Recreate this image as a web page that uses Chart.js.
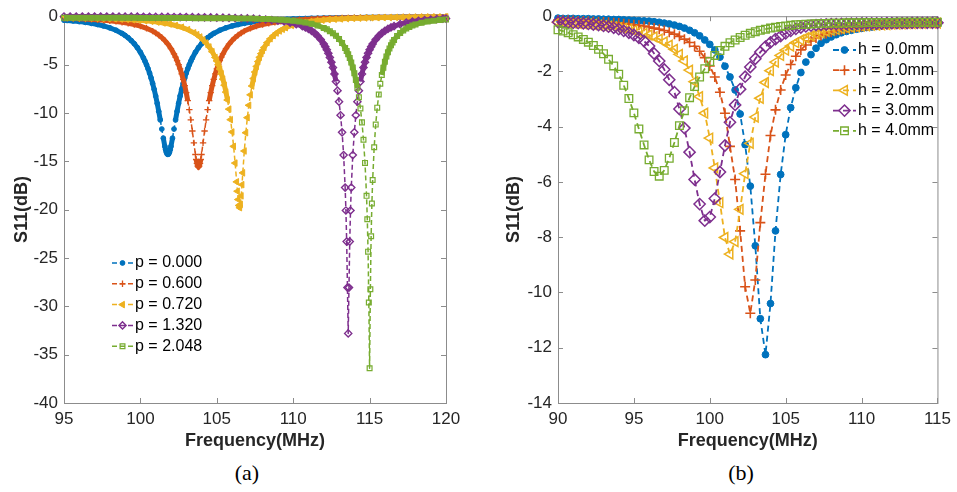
<!DOCTYPE html>
<html>
<head>
<meta charset="utf-8">
<title>S11 vs Frequency</title>
<script src="https://cdn.jsdelivr.net/npm/chart.js@4.4.1/dist/chart.umd.min.js"></script>
<style>
  body { margin: 0; background: #fff; }
  #wrap { position: relative; width: 957px; height: 492px; overflow: hidden; }
  canvas { position: absolute; top: 0; }
  #chartA { left: 0; }
  #chartB { left: 478px; }
  .cap { position: absolute; top: 460px; width: 80px; text-align: center; line-height: 26px;
         font: 22px "Liberation Serif", "Times New Roman", serif; color: #000; }
</style>
</head>
<body>
<div id="wrap">
  <canvas id="chartA" width="478" height="455"></canvas>
  <canvas id="chartB" width="479" height="455"></canvas>
  <div class="cap" style="left:207px">(a)</div>
  <div class="cap" style="left:701px">(b)</div>
</div>
<script>
// ---- (a) S11 against frequency for several p ----
const labelsA = ['p = 0.000', 'p = 0.600', 'p = 0.720', 'p = 1.320', 'p = 2.048'];

const freqP000 = [
  95.0, 95.2, 95.6, 96.0, 96.4, 96.8, 97.2, 97.6, 98.0, 98.4,
  98.8, 99.0, 99.2, 99.4, 99.6, 99.8, 100.0, 100.2, 100.3, 100.4,
  100.5, 100.6, 100.7, 100.8, 100.9, 101.0, 101.1, 101.2, 101.3, 101.4,
  101.5, 101.6, 101.65, 101.7, 101.75, 101.8, 101.85, 101.9, 101.95, 102.0,
  102.1, 102.2, 102.3, 102.4, 102.5, 102.6, 102.7, 102.8, 102.9, 103.0,
  103.1, 103.2, 103.3, 103.4, 103.6, 103.8, 104.0, 104.2, 104.4, 104.6,
  104.8, 105.2, 105.6, 106.0, 106.4, 106.8, 107.2, 107.6, 108.0, 108.4,
  108.8, 109.2, 109.6, 110.0, 110.4, 110.8, 111.2, 111.6, 112.0, 112.4,
  112.8, 113.2, 113.6, 114.0, 114.4, 114.8, 115.2, 115.6, 116.0, 116.4,
  116.8, 117.2, 117.6, 118.0, 118.4, 118.8, 119.2, 119.6, 120.0];
const s11P000 = [
  -0.42, -0.44, -0.49, -0.56, -0.64, -0.74, -0.86, -1.01, -1.20, -1.45,
  -1.78, -1.99, -2.23, -2.52, -2.85, -3.25, -3.73, -4.32, -4.65, -5.02,
  -5.43, -5.88, -6.39, -6.95, -7.56, -8.25, -9.01, -9.84, -10.73, -11.67,
  -12.61, -13.46, -13.80, -14.07, -14.24, -14.29, -14.24, -14.07, -13.80, -13.46,
  -12.61, -11.67, -10.73, -9.84, -9.01, -8.25, -7.56, -6.95, -6.39, -5.88,
  -5.43, -5.02, -4.65, -4.32, -3.73, -3.25, -2.85, -2.52, -2.23, -1.99,
  -1.78, -1.45, -1.20, -1.01, -0.86, -0.74, -0.64, -0.56, -0.49, -0.44,
  -0.39, -0.35, -0.32, -0.29, -0.26, -0.24, -0.22, -0.21, -0.19, -0.18,
  -0.17, -0.16, -0.15, -0.14, -0.13, -0.12, -0.12, -0.11, -0.10, -0.10,
  -0.09, -0.09, -0.08, -0.08, -0.07, -0.07, -0.07, -0.06, -0.06];

const freqP060 = [
  95.0, 95.2, 95.6, 96.0, 96.4, 96.8, 97.2, 97.6, 98.0, 98.4,
  98.8, 99.2, 99.6, 100.0, 100.4, 100.8, 101.0, 101.2, 101.4, 101.6,
  101.8, 102.0, 102.2, 102.3, 102.4, 102.5, 102.6, 102.7, 102.8, 102.9,
  103.0, 103.1, 103.2, 103.3, 103.4, 103.5, 103.6, 103.65, 103.7, 103.75,
  103.8, 103.85, 103.9, 103.95, 104.0, 104.1, 104.2, 104.3, 104.4, 104.5,
  104.6, 104.7, 104.8, 104.9, 105.0, 105.1, 105.2, 105.3, 105.4, 105.6,
  105.8, 106.0, 106.2, 106.4, 106.6, 106.8, 107.2, 107.6, 108.0, 108.4,
  108.8, 109.2, 109.6, 110.0, 110.4, 110.8, 111.2, 111.6, 112.0, 112.4,
  112.8, 113.2, 113.6, 114.0, 114.4, 114.8, 115.2, 115.6, 116.0, 116.4,
  116.8, 117.2, 117.6, 118.0, 118.4, 118.8, 119.2, 119.6, 120.0];
const s11P060 = [
  -0.21, -0.22, -0.24, -0.27, -0.30, -0.33, -0.37, -0.42, -0.47, -0.54,
  -0.63, -0.73, -0.86, -1.03, -1.25, -1.54, -1.73, -1.95, -2.21, -2.52,
  -2.89, -3.35, -3.90, -4.23, -4.59, -5.00, -5.45, -5.96, -6.54, -7.18,
  -7.91, -8.74, -9.67, -10.72, -11.87, -13.10, -14.30, -14.82, -15.23, -15.51,
  -15.60, -15.51, -15.23, -14.82, -14.30, -13.10, -11.87, -10.72, -9.67, -8.74,
  -7.91, -7.18, -6.54, -5.96, -5.45, -5.00, -4.59, -4.23, -3.90, -3.35,
  -2.89, -2.52, -2.21, -1.95, -1.73, -1.54, -1.25, -1.03, -0.86, -0.73,
  -0.63, -0.54, -0.47, -0.42, -0.37, -0.33, -0.30, -0.27, -0.24, -0.22,
  -0.20, -0.19, -0.17, -0.16, -0.15, -0.14, -0.13, -0.12, -0.11, -0.11,
  -0.10, -0.09, -0.09, -0.08, -0.08, -0.08, -0.07, -0.07, -0.07];

const freqP072 = [
  95.0, 95.1, 95.5, 95.9, 96.3, 96.7, 97.1, 97.5, 97.9, 98.3,
  98.7, 99.1, 99.5, 99.9, 100.3, 100.7, 101.1, 101.5, 101.9, 102.3,
  102.7, 103.1, 103.5, 103.7, 103.9, 104.1, 104.3, 104.5, 104.7, 104.9,
  105.0, 105.1, 105.2, 105.3, 105.4, 105.5, 105.6, 105.7, 105.8, 105.9,
  106.0, 106.1, 106.2, 106.3, 106.35, 106.4, 106.45, 106.5, 106.55, 106.6,
  106.65, 106.7, 106.8, 106.9, 107.0, 107.1, 107.2, 107.3, 107.4, 107.5,
  107.6, 107.7, 107.8, 107.9, 108.0, 108.1, 108.3, 108.5, 108.7, 108.9,
  109.1, 109.3, 109.5, 109.9, 110.3, 110.7, 111.1, 111.5, 111.9, 112.3,
  112.7, 113.1, 113.5, 113.9, 114.3, 114.7, 115.1, 115.5, 115.9, 116.3,
  116.7, 117.1, 117.5, 117.9, 118.3, 118.7, 119.1, 119.5, 119.9, 120.0];
const s11P072 = [
  -0.14, -0.14, -0.15, -0.17, -0.18, -0.19, -0.21, -0.23, -0.25, -0.27,
  -0.30, -0.33, -0.37, -0.41, -0.47, -0.53, -0.61, -0.70, -0.81, -0.96,
  -1.14, -1.39, -1.71, -1.91, -2.15, -2.44, -2.77, -3.18, -3.67, -4.27,
  -4.62, -5.02, -5.46, -5.95, -6.51, -7.14, -7.85, -8.67, -9.61, -10.70,
  -11.97, -13.46, -15.19, -17.13, -18.10, -18.96, -19.57, -19.80, -19.46, -18.58,
  -17.42, -16.20, -13.94, -12.05, -10.49, -9.21, -8.13, -7.22, -6.44, -5.77,
  -5.19, -4.69, -4.25, -3.87, -3.53, -3.23, -2.73, -2.33, -2.01, -1.74,
  -1.53, -1.35, -1.19, -0.96, -0.78, -0.65, -0.55, -0.47, -0.41, -0.35,
  -0.31, -0.28, -0.25, -0.22, -0.20, -0.18, -0.16, -0.15, -0.14, -0.13,
  -0.12, -0.11, -0.10, -0.10, -0.09, -0.09, -0.08, -0.08, -0.07, -0.07];

const freqP132 = [
  95.0, 95.4, 95.8, 96.2, 96.6, 97.0, 97.4, 97.8, 98.2, 98.6,
  99.0, 99.4, 99.8, 100.2, 100.6, 101.0, 101.4, 101.8, 102.2, 102.6,
  103.0, 103.4, 103.8, 104.2, 104.6, 105.0, 105.4, 105.8, 106.2, 106.6,
  107.0, 107.4, 107.8, 108.2, 108.6, 109.0, 109.4, 109.8, 110.2, 110.6,
  110.8, 111.0, 111.2, 111.4, 111.6, 111.8, 112.0, 112.1, 112.2, 112.3,
  112.4, 112.5, 112.6, 112.7, 112.8, 112.9, 113.0, 113.1, 113.2, 113.3,
  113.4, 113.45, 113.5, 113.55, 113.6, 113.65, 113.7, 113.75, 113.8, 113.9,
  114.0, 114.1, 114.2, 114.3, 114.4, 114.5, 114.6, 114.7, 114.8, 114.9,
  115.0, 115.1, 115.2, 115.4, 115.6, 115.8, 116.0, 116.2, 116.4, 116.6,
  117.0, 117.4, 117.8, 118.2, 118.6, 119.0, 119.4, 119.8, 120.0];
const s11P132 = [
  -0.03, -0.03, -0.03, -0.03, -0.04, -0.04, -0.04, -0.04, -0.04, -0.05,
  -0.05, -0.05, -0.05, -0.06, -0.06, -0.07, -0.07, -0.07, -0.08, -0.09,
  -0.09, -0.10, -0.11, -0.12, -0.13, -0.14, -0.15, -0.17, -0.19, -0.21,
  -0.23, -0.26, -0.30, -0.34, -0.40, -0.47, -0.55, -0.67, -0.82, -1.03,
  -1.16, -1.32, -1.51, -1.75, -2.04, -2.41, -2.87, -3.15, -3.47, -3.84,
  -4.26, -4.75, -5.31, -5.98, -6.76, -7.70, -8.84, -10.24, -12.01, -14.36,
  -17.72, -20.09, -23.31, -28.06, -32.80, -28.06, -23.31, -20.09, -17.72, -14.36,
  -12.01, -10.24, -8.84, -7.70, -6.76, -5.98, -5.31, -4.75, -4.26, -3.84,
  -3.47, -3.15, -2.87, -2.41, -2.04, -1.75, -1.51, -1.32, -1.16, -1.03,
  -0.82, -0.67, -0.55, -0.47, -0.40, -0.34, -0.30, -0.26, -0.25];

const freqP2048 = [
  95.0, 95.2, 95.6, 96.0, 96.4, 96.8, 97.2, 97.6, 98.0, 98.4,
  98.8, 99.2, 99.6, 100.0, 100.4, 100.8, 101.2, 101.6, 102.0, 102.4,
  102.8, 103.2, 103.6, 104.0, 104.4, 104.8, 105.2, 105.6, 106.0, 106.4,
  106.8, 107.2, 107.6, 108.0, 108.4, 108.8, 109.2, 109.6, 110.0, 110.4,
  110.8, 111.2, 111.6, 112.0, 112.2, 112.4, 112.6, 112.8, 113.0, 113.2,
  113.4, 113.5, 113.6, 113.7, 113.8, 113.9, 114.0, 114.1, 114.2, 114.3,
  114.4, 114.5, 114.6, 114.7, 114.8, 114.85, 114.9, 114.95, 115.0, 115.05,
  115.1, 115.15, 115.2, 115.3, 115.4, 115.5, 115.6, 115.7, 115.8, 115.9,
  116.0, 116.1, 116.2, 116.3, 116.4, 116.5, 116.6, 116.8, 117.0, 117.2,
  117.4, 117.6, 117.8, 118.0, 118.4, 118.8, 119.2, 119.6, 120.0];
const s11P2048 = [
  -0.16, -0.16, -0.16, -0.16, -0.16, -0.16, -0.16, -0.17, -0.17, -0.17,
  -0.17, -0.17, -0.17, -0.18, -0.18, -0.18, -0.18, -0.18, -0.19, -0.19,
  -0.19, -0.19, -0.20, -0.20, -0.20, -0.21, -0.21, -0.22, -0.22, -0.23,
  -0.24, -0.25, -0.26, -0.28, -0.30, -0.33, -0.37, -0.42, -0.48, -0.56,
  -0.66, -0.79, -0.97, -1.21, -1.36, -1.55, -1.77, -2.03, -2.36, -2.77,
  -3.28, -3.59, -3.93, -4.33, -4.78, -5.30, -5.90, -6.59, -7.41, -8.38,
  -9.55, -10.98, -12.78, -15.17, -18.58, -21.00, -24.35, -29.61, -36.40, -28.23,
  -22.75, -19.37, -16.94, -13.55, -11.21, -9.46, -8.09, -6.99, -6.08, -5.34,
  -4.71, -4.18, -3.73, -3.34, -3.01, -2.72, -2.47, -2.05, -1.73, -1.48,
  -1.27, -1.11, -0.97, -0.86, -0.68, -0.55, -0.46, -0.38, -0.33];

// ---- (b) S11 against frequency for several h ----
const labelsB = ['h = 0.0mm', 'h = 1.0mm', 'h = 2.0mm', 'h = 3.0mm', 'h = 4.0mm'];

const freqB = [
  90.00, 90.33, 90.67, 91.00, 91.33, 91.67, 92.00, 92.33, 92.67, 93.00,
  93.33, 93.67, 94.00, 94.33, 94.67, 95.00, 95.33, 95.67, 96.00, 96.33,
  96.67, 97.00, 97.33, 97.67, 98.00, 98.33, 98.67, 99.00, 99.33, 99.67,
  100.00, 100.33, 100.67, 101.00, 101.33, 101.67, 102.00, 102.33, 102.67, 103.00,
  103.33, 103.67, 104.00, 104.33, 104.67, 105.00, 105.33, 105.67, 106.00, 106.33,
  106.67, 107.00, 107.33, 107.67, 108.00, 108.33, 108.67, 109.00, 109.33, 109.67,
  110.00, 110.33, 110.67, 111.00, 111.33, 111.67, 112.00, 112.33, 112.67, 113.00,
  113.33, 113.67, 114.00, 114.33, 114.67, 115.00];

const s11H00 = [
  -0.07, -0.08, -0.08, -0.08, -0.09, -0.09, -0.09, -0.10, -0.10, -0.11,
  -0.11, -0.12, -0.12, -0.13, -0.14, -0.15, -0.16, -0.17, -0.18, -0.20,
  -0.22, -0.25, -0.28, -0.32, -0.37, -0.43, -0.51, -0.60, -0.71, -0.86,
  -1.02, -1.22, -1.48, -1.81, -2.20, -2.67, -3.54, -4.65, -6.15, -8.31,
  -10.95, -12.25, -10.40, -7.77, -5.73, -4.29, -3.31, -2.59, -2.04, -1.66,
  -1.39, -1.16, -0.98, -0.85, -0.75, -0.67, -0.60, -0.55, -0.51, -0.47,
  -0.44, -0.41, -0.39, -0.37, -0.35, -0.34, -0.33, -0.32, -0.31, -0.30,
  -0.29, -0.28, -0.27, -0.27, -0.26, -0.26];
const s11H10 = [
  -0.14, -0.15, -0.15, -0.16, -0.17, -0.17, -0.18, -0.19, -0.20, -0.21,
  -0.22, -0.24, -0.25, -0.27, -0.29, -0.31, -0.33, -0.36, -0.39, -0.43,
  -0.47, -0.52, -0.58, -0.65, -0.73, -0.83, -0.95, -1.09, -1.27, -1.50,
  -1.80, -2.20, -2.75, -3.51, -4.71, -5.91, -7.77, -9.79, -10.75, -9.55,
  -7.47, -5.72, -4.32, -3.39, -2.67, -2.13, -1.75, -1.45, -1.22, -1.04,
  -0.90, -0.79, -0.70, -0.63, -0.57, -0.52, -0.48, -0.44, -0.41, -0.39,
  -0.37, -0.35, -0.33, -0.32, -0.31, -0.30, -0.29, -0.28, -0.28, -0.27,
  -0.27, -0.26, -0.26, -0.25, -0.25, -0.25];
const s11H20 = [
  -0.22, -0.23, -0.24, -0.25, -0.26, -0.27, -0.28, -0.30, -0.32, -0.34,
  -0.36, -0.38, -0.41, -0.44, -0.48, -0.52, -0.57, -0.62, -0.68, -0.75,
  -0.83, -0.93, -1.05, -1.20, -1.38, -1.62, -1.95, -2.37, -2.91, -3.51,
  -4.41, -5.49, -6.75, -8.01, -8.61, -8.16, -6.99, -5.70, -4.60, -3.65,
  -2.97, -2.40, -1.97, -1.66, -1.42, -1.23, -1.08, -0.96, -0.86, -0.78,
  -0.71, -0.65, -0.60, -0.55, -0.51, -0.48, -0.45, -0.42, -0.40, -0.38,
  -0.36, -0.35, -0.33, -0.32, -0.31, -0.30, -0.29, -0.29, -0.28, -0.27,
  -0.27, -0.26, -0.26, -0.25, -0.25, -0.25];
const s11H30 = [
  -0.21, -0.22, -0.23, -0.24, -0.25, -0.26, -0.28, -0.30, -0.32, -0.35,
  -0.38, -0.42, -0.47, -0.53, -0.60, -0.68, -0.78, -0.90, -1.08, -1.35,
  -1.62, -1.93, -2.30, -2.75, -3.36, -4.05, -4.92, -5.91, -6.80, -7.40,
  -7.27, -6.60, -5.64, -4.68, -3.84, -3.21, -2.64, -2.19, -1.84, -1.54,
  -1.30, -1.10, -0.95, -0.83, -0.72, -0.62, -0.53, -0.46, -0.41, -0.37,
  -0.34, -0.32, -0.31, -0.30, -0.29, -0.29, -0.28, -0.28, -0.27, -0.27,
  -0.27, -0.26, -0.26, -0.26, -0.26, -0.25, -0.25, -0.25, -0.25, -0.25,
  -0.24, -0.24, -0.24, -0.24, -0.24, -0.24];
const s11H40 = [
  -0.49, -0.54, -0.60, -0.67, -0.75, -0.84, -0.94, -1.06, -1.20, -1.36,
  -1.56, -1.80, -2.10, -2.50, -2.98, -3.50, -4.08, -4.66, -5.20, -5.62,
  -5.79, -5.58, -5.14, -4.57, -3.96, -3.42, -2.95, -2.55, -2.20, -1.90,
  -1.64, -1.42, -1.24, -1.09, -0.96, -0.86, -0.77, -0.69, -0.62, -0.56,
  -0.51, -0.47, -0.43, -0.40, -0.37, -0.35, -0.33, -0.31, -0.30, -0.29,
  -0.28, -0.27, -0.26, -0.26, -0.25, -0.25, -0.25, -0.24, -0.24, -0.24,
  -0.24, -0.23, -0.23, -0.23, -0.23, -0.23, -0.23, -0.22, -0.22, -0.22,
  -0.22, -0.22, -0.22, -0.22, -0.22, -0.22];

// MATLAB default line colours
const colors = ['#0072BD', '#D95319', '#EDB120', '#7E2F8E', '#77AC30'];

function toPoints(xs, ys) {
  return xs.map((x, i) => ({ x: x, y: ys[i] }));
}

// marker looks for each panel
const markersA = [
  { style: 'circle', r: 2.4, fill: true, bw: 1 },
  { style: 'cross', r: 3.2, fill: false, bw: 1.3 },
  { style: 'triangle', r: 3.8, fill: true, bw: 1, rot: -90 },
  { style: 'rectRot', r: 3.6, fill: false, bw: 1.4 },
  { style: 'rect', r: 3.4, fill: false, bw: 1.2 }
];
const markersB = [
  { style: 'circle', r: 3.4, fill: true, bw: 1 },
  { style: 'cross', r: 5, fill: false, bw: 1.6 },
  { style: 'triangle', r: 5.6, fill: false, bw: 1.5, rot: -90 },
  { style: 'rectRot', r: 5.6, fill: false, bw: 1.5 },
  { style: 'rect', r: 5.4, fill: false, bw: 1.3 }
];

// in (a) the samples are so dense that the markers merge into a solid band
// wherever the curve is not steep; draw those stretches as a thick solid line
function denseBand(lw, dash, limit, bandWidth) {
  const steep = c => Math.abs((c.p1.parsed.y - c.p0.parsed.y) / (c.p1.parsed.x - c.p0.parsed.x)) > limit;
  return {
    borderWidth: c => steep(c) ? lw : bandWidth,
    borderDash: c => steep(c) ? dash : []
  };
}

function makeSet(label, pts, i, mk, lw, dash, segment) {
  const ds = {
    label: label,
    data: pts,
    order: 4 - i,            // later series drawn on top, like MATLAB
    borderColor: colors[i],
    backgroundColor: colors[i],
    borderWidth: lw,
    borderDash: dash,
    borderJoinStyle: 'round',
    pointStyle: mk.style,
    pointRadius: mk.r,
    pointHoverRadius: mk.r,
    pointRotation: mk.rot || 0,
    pointBorderColor: colors[i],
    pointBackgroundColor: mk.fill ? colors[i] : 'rgba(0,0,0,0)',
    pointBorderWidth: mk.bw,
    fill: false,
    tension: 0,
    clip: false
  };
  if (segment) ds.segment = segment;
  return ds;
}

// box around the plot with inward tick marks
const frameTicks = {
  id: 'frameTicks',
  beforeDatasetsDraw(chart) {
    const { ctx, chartArea: a, scales: { x, y } } = chart;
    ctx.save();
    ctx.strokeStyle = '#8c8c8c';
    ctx.lineWidth = 1;
    ctx.strokeRect(a.left + 0.5, a.top + 0.5, a.right - a.left, a.bottom - a.top);
    ctx.beginPath();
    x.ticks.forEach(t => {
      const px = Math.round(x.getPixelForValue(t.value)) + 0.5;
      ctx.moveTo(px, a.bottom); ctx.lineTo(px, a.bottom - 5);
      ctx.moveTo(px, a.top); ctx.lineTo(px, a.top + 5);
    });
    y.ticks.forEach(t => {
      const py = Math.round(y.getPixelForValue(t.value)) + 0.5;
      ctx.moveTo(a.left, py); ctx.lineTo(a.left + 5, py);
      ctx.moveTo(a.right, py); ctx.lineTo(a.right - 5, py);
    });
    ctx.stroke();
    ctx.restore();
  }
};

// legend drawn inside the axes
const inlineLegend = {
  id: 'inlineLegend',
  afterDatasetsDraw(chart, args, opts) {
    const ctx = chart.ctx;
    ctx.save();
    ctx.font = '16px "Liberation Sans", Arial, sans-serif';
    ctx.textBaseline = 'middle';
    chart.data.datasets.forEach((ds, i) => {
      const y = opts.y + i * opts.gap;
      ctx.strokeStyle = ds.borderColor;
      ctx.lineWidth = ds.borderWidth;
      ctx.setLineDash(ds.borderDash);
      ctx.beginPath();
      ctx.moveTo(opts.x, y);
      ctx.lineTo(opts.x + opts.len, y);
      ctx.stroke();
      ctx.setLineDash([]);
      ctx.strokeStyle = ds.pointBorderColor;
      ctx.fillStyle = ds.pointBackgroundColor;
      ctx.lineWidth = ds.pointBorderWidth;
      Chart.helpers.drawPoint(ctx, {
        pointStyle: ds.pointStyle, radius: ds.pointRadius,
        rotation: ds.pointRotation, borderWidth: ds.pointBorderWidth
      }, opts.x + opts.len / 2, y);
      ctx.fillStyle = '#000';
      ctx.fillText(ds.label, opts.x + opts.len + 2, y);
    });
    ctx.restore();
  }
};

const fontFam = '"Liberation Sans", Arial, Helvetica, sans-serif';

function makeScales(xr, yr, yWidth, yTitlePad) {
  const tickFont = { family: fontFam, size: 17 };
  const titleFont = { family: fontFam, size: 18, weight: 'bold' };
  return {
    x: {
      type: 'linear', min: xr[0], max: xr[1],
      ticks: { stepSize: xr[2], color: '#262626', font: tickFont, padding: 6, autoSkip: false, maxRotation: 0 },
      grid: { display: false, drawTicks: false },
      border: { display: false },
      title: { display: true, text: 'Frequency(MHz)', color: '#262626', font: titleFont, padding: { top: 0, bottom: 3 } },
      afterFit: s => { s.height = 52; }
    },
    y: {
      type: 'linear', min: yr[0], max: yr[1],
      ticks: { stepSize: yr[2], color: '#262626', font: tickFont, padding: 6 },
      grid: { display: false, drawTicks: false },
      border: { display: false },
      title: { display: true, text: 'S11(dB)', color: '#262626', font: titleFont, padding: { top: yTitlePad, bottom: 0 } },
      afterFit: s => { s.width = yWidth; }
    }
  };
}

const seriesA = [
  toPoints(freqP000, s11P000),
  toPoints(freqP060, s11P060),
  toPoints(freqP072, s11P072),
  toPoints(freqP132, s11P132),
  toPoints(freqP2048, s11P2048)
];
const seriesB = [
  toPoints(freqB, s11H00),
  toPoints(freqB, s11H10),
  toPoints(freqB, s11H20),
  toPoints(freqB, s11H30),
  toPoints(freqB, s11H40)
];

new Chart(document.getElementById('chartA'), {
  type: 'line',
  data: {
    datasets: seriesA.map((pts, i) =>
      makeSet(labelsA[i], pts, i, markersA[i], 1.5, [5, 3], denseBand(1.5, [5, 3], 9, 5)))
  },
  options: {
    responsive: false,
    animation: false,
    events: [],
    layout: { padding: { top: 14, right: 32, left: 0, bottom: 0 } },
    scales: makeScales([95, 120, 5], [-40, 0, 5], 64, 11),
    plugins: {
      legend: { display: false },
      tooltip: { enabled: false },
      inlineLegend: { x: 112, y: 263, gap: 20.8, len: 21 }
    }
  },
  plugins: [frameTicks, inlineLegend]
});

new Chart(document.getElementById('chartB'), {
  type: 'line',
  data: { datasets: seriesB.map((pts, i) => makeSet(labelsB[i], pts, i, markersB[i], 1.8, [6, 4])) },
  options: {
    responsive: false,
    animation: false,
    events: [],
    layout: { padding: { top: 14, right: 17, left: 0, bottom: 0 } },
    scales: makeScales([90, 115, 5], [-14, 0, 2], 80, 25),
    plugins: {
      legend: { display: false },
      tooltip: { enabled: false },
      inlineLegend: { x: 355, y: 50, gap: 20.2, len: 23 }
    }
  },
  plugins: [frameTicks, inlineLegend]
});
</script>
</body>
</html>
